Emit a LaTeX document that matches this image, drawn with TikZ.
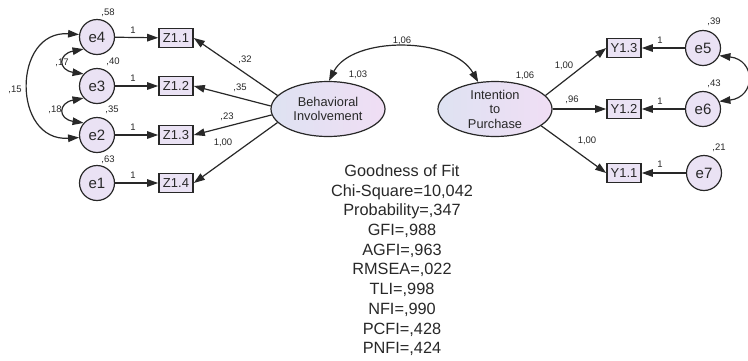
\documentclass[tikz,border=0pt]{standalone}
\usepackage{fontspec}
\setmainfont{Liberation Sans}
\usetikzlibrary{shapes.geometric,arrows.meta}
\definecolor{lav}{RGB}{234,226,244}
\definecolor{edgegray}{RGB}{40,40,40}
\definecolor{latl}{RGB}{222,226,242}
\definecolor{latr}{RGB}{240,222,244}
\tikzset{every picture/.style={line width=1.2pt}}
\tikzset{
  errvar/.style={circle, draw=edgegray, fill=lav, minimum size=35pt, inner sep=0pt, text=edgegray, font=\fontsize{15}{15}\selectfont},
  obsvar/.style={rectangle, draw=edgegray, line width=1.6pt, fill=lav, minimum width=34pt, minimum height=19pt, inner sep=0pt, text=edgegray, font=\fontsize{13}{13}\selectfont},
  latvar/.style={ellipse, draw=edgegray, left color=latl, right color=latr, minimum width=114pt, minimum height=55pt, inner sep=0pt, align=center, text=edgegray, font=\fontsize{12.8}{14.5}\selectfont},
  est/.style={inner sep=0.75pt, text=edgegray, font=\fontsize{9.5}{9.5}\selectfont},
  load/.style={draw=edgegray, -{Triangle[length=11pt,width=7.5pt]}},
  covar/.style={draw=edgegray, {Triangle[length=11pt,width=7.5pt]}-{Triangle[length=11pt,width=7.5pt]}}
}
\begin{document}
\begin{tikzpicture}[x=1pt,y=1pt,yscale=-1,xscale=1]
\useasboundingbox (0,0) rectangle (748,360);
\fill[white] (0,0) rectangle (748,360);

\node (e4) [errvar] at (97,37) {e4};
\node (e3) [errvar] at (97,86) {e3};
\node (e2) [errvar] at (97,135) {e2};
\node (e1) [errvar] at (97,183) {e1};
\node (z11) [obsvar] at (176,38) {Z1.1};
\node (z12) [obsvar] at (176,86) {Z1.2};
\node (z13) [obsvar] at (176,135) {Z1.3};
\node (z14) [obsvar] at (176,183) {Z1.4};
\node (beh) [latvar] at (328,109) {Behavioral\\Involvement};
\node (int) [latvar] at (495,109) {Intention\\to\\Purchase};
\node (y13) [obsvar] at (624,48) {Y1.3};
\node (y12) [obsvar] at (624,109) {Y1.2};
\node (y11) [obsvar] at (624,173) {Y1.1};
\node (e5) [errvar] at (703,48) {e5};
\node (e6) [errvar] at (703,109) {e6};
\node (e7) [errvar] at (704,173) {e7};

\draw [load] (e4) -- (z11);
\draw [load] (e3) -- (z12);
\draw [load] (e2) -- (z13);
\draw [load] (e1) -- (z14);
\draw [load] (beh.165) -- (z11.east);
\draw [load] (beh.177) -- (z12.east);
\draw [load] (beh.186) -- (z13.east);
\draw [load] (beh.195) -- (z14.east);
\draw [load] (int.15) -- (y13.west);
\draw [load] (int.0) -- (y12.west);
\draw [load] (int.340) -- (y11.west);
\draw [load] (e5) -- (y13);
\draw [load] (e6) -- (y12);
\draw [load] (e7) -- (y11);

\draw [covar] (e4.172) .. controls (12,30) and (12,142) .. (e2.188);
\draw [covar] (e4.222) .. controls (58,54) and (58,70) .. (e3.138);
\draw [covar] (e3.222) .. controls (58,103) and (58,119) .. (e2.138);
\draw [covar] (e5.335) .. controls (756,60) and (756,97) .. (e6.25);
\draw [covar] (beh.88) .. controls (352,36) and (452,36) .. (int.122);

\node (v4) [est] at (108,13) {,58};
\node (v3) [est] at (113,62) {,40};
\node (v2) [est] at (112,110) {,35};
\node (v1) [est] at (108,160) {,63};
\node (c43) [est] at (62,63) {,17};
\node (c32) [est] at (55,110) {,18};
\node (c42) [est] at (15,90) {,15};
\node (w4) [est] at (133,30) {1};
\node (w3) [est] at (133,78) {1};
\node (w2) [est] at (133,127) {1};
\node (w1) [est] at (133,175) {1};
\node (l11) [est] at (245,60) {,32};
\node (l12) [est] at (240,88) {,35};
\node (l13) [est] at (227,117) {,23};
\node (l14) [est] at (223,143) {1,00};
\node (vbeh) [est] at (358,75) {1,03};
\node (cbi) [est] at (402,41) {1,06};
\node (vint) [est] at (525,76) {1,06};
\node (l23) [est] at (564,66) {1,00};
\node (l22) [est] at (572,100) {,96};
\node (l21) [est] at (587,141) {1,00};
\node (w5) [est] at (660,40) {1};
\node (w6) [est] at (660,101) {1};
\node (w7) [est] at (660,164) {1};
\node (v5) [est] at (714,22) {,39};
\node (v6) [est] at (714,84) {,43};
\node (v7) [est] at (719,148) {,21};

\node (gof) [anchor=north, inner sep=0pt, align=center, text=edgegray, font=\fontsize{16.3}{19.7}\selectfont] at (402,164) {Goodness of Fit\\Chi-Square=10,042\\Probability=,347\\GFI=,988\\AGFI=,963\\RMSEA=,022\\TLI=,998\\NFI=,990\\PCFI=,428\\PNFI=,424};
\end{tikzpicture}
\end{document}
